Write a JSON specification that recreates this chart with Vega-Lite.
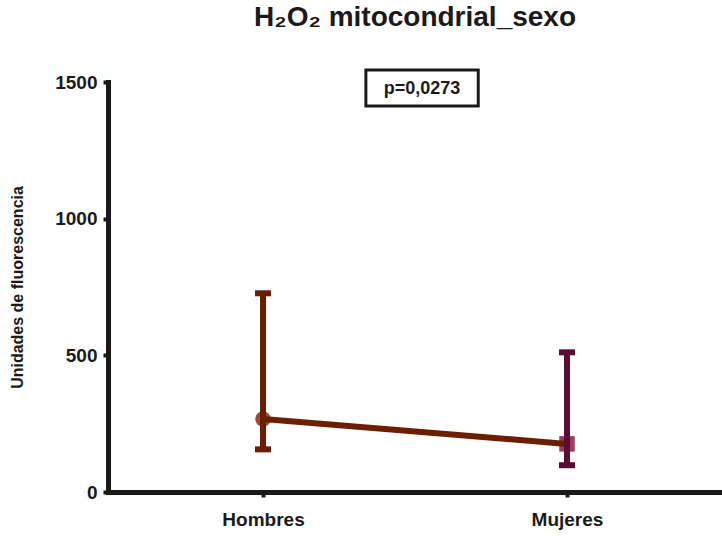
{
  "$schema": "https://vega.github.io/schema/vega-lite/v6.json",
  "width": 614,
  "height": 410,
  "autosize": {"type": "none"},
  "padding": {"left": 108, "top": 82, "right": 0, "bottom": 44},
  "background": "white",
  "title": {
    "text": "H₂O₂ mitocondrial_sexo",
    "font": "Liberation Sans",
    "fontSize": 28,
    "fontWeight": "bold",
    "color": "#1a1a1a",
    "anchor": "middle",
    "frame": "group",
    "offset": 36
  },
  "config": {
    "view": {"stroke": null},
    "axis": {
      "grid": false,
      "domainColor": "#1a1a1a",
      "domainWidth": 5,
      "domainCap": "square",
      "tickColor": "#1a1a1a",
      "tickWidth": 4,
      "tickSize": 5,
      "labelFont": "Liberation Sans",
      "labelFontSize": 19,
      "labelFontWeight": "bold",
      "labelColor": "#1a1a1a",
      "titleFont": "Liberation Sans",
      "titleColor": "#1a1a1a"
    }
  },
  "datasets": {
    "stats": [
      {"grupo": "Hombres", "media": 267, "inferior": 156, "superior": 727},
      {"grupo": "Mujeres", "media": 176, "inferior": 98, "superior": 511}
    ],
    "anotacion": [
      {"p": "p=0,0273"}
    ]
  },
  "layer": [
    {
      "data": {"name": "stats"},
      "encoding": {
        "x": {
          "field": "grupo",
          "type": "nominal",
          "sort": ["Hombres", "Mujeres"],
          "scale": {"type": "point", "padding": 0.51},
          "axis": {"title": null, "labelAngle": 0, "labelPadding": 13}
        }
      },
      "layer": [
        {
          "mark": {"type": "point", "filled": true, "opacity": 1, "size": 240, "strokeWidth": 0},
          "encoding": {
            "y": {
              "field": "media",
              "type": "quantitative",
              "scale": {"domain": [0, 1500], "nice": false},
              "axis": {
                "title": "Unidades de fluorescencia",
                "values": [0, 500, 1000, 1500],
                "format": "d",
                "labelPadding": 6,
                "titleFontSize": 16,
                "titleFontWeight": "bold",
                "titlePadding": 29
              }
            },
            "fill": {
              "field": "grupo",
              "type": "nominal",
              "scale": {"domain": ["Hombres", "Mujeres"], "range": ["#A34A2E", "#9C3A62"]},
              "legend": null
            },
            "shape": {
              "field": "grupo",
              "type": "nominal",
              "scale": {"domain": ["Hombres", "Mujeres"], "range": ["circle", "square"]},
              "legend": null
            }
          }
        },
        {
          "mark": {"type": "line", "color": "#6B1E00", "strokeWidth": 6},
          "encoding": {
            "y": {"field": "media", "type": "quantitative"}
          }
        },
        {
          "mark": {"type": "rule", "strokeWidth": 6},
          "encoding": {
            "y": {"field": "inferior", "type": "quantitative"},
            "y2": {"field": "superior"},
            "color": {
              "field": "grupo",
              "type": "nominal",
              "scale": {"domain": ["Hombres", "Mujeres"], "range": ["#6B1E00", "#5C0B32"]},
              "legend": null
            }
          }
        },
        {
          "mark": {"type": "tick", "thickness": 6, "size": 16, "opacity": 1},
          "encoding": {
            "y": {"field": "superior", "type": "quantitative"},
            "color": {"field": "grupo", "type": "nominal", "legend": null}
          }
        },
        {
          "mark": {"type": "tick", "thickness": 6, "size": 16, "opacity": 1},
          "encoding": {
            "y": {"field": "inferior", "type": "quantitative"},
            "color": {"field": "grupo", "type": "nominal", "legend": null}
          }
        }
      ]
    },
    {
      "data": {"name": "anotacion"},
      "layer": [
        {
          "mark": {"type": "rect", "fill": "white", "stroke": "#1a1a1a", "strokeWidth": 3},
          "encoding": {
            "x": {"datum": 0.42, "type": "quantitative", "scale": {"domain": [0, 1], "nice": false, "zero": false}, "axis": null},
            "x2": {"datum": 0.603},
            "y": {"datum": 1412, "type": "quantitative"},
            "y2": {"datum": 1544}
          }
        },
        {
          "mark": {"type": "text", "font": "Liberation Sans", "fontSize": 18, "fontWeight": "bold", "color": "#1a1a1a", "align": "center", "baseline": "middle"},
          "encoding": {
            "x": {"datum": 0.5115, "type": "quantitative"},
            "y": {"datum": 1475, "type": "quantitative"},
            "text": {"field": "p"}
          }
        }
      ]
    }
  ],
  "resolve": {"scale": {"x": "independent", "color": "independent"}}
}
